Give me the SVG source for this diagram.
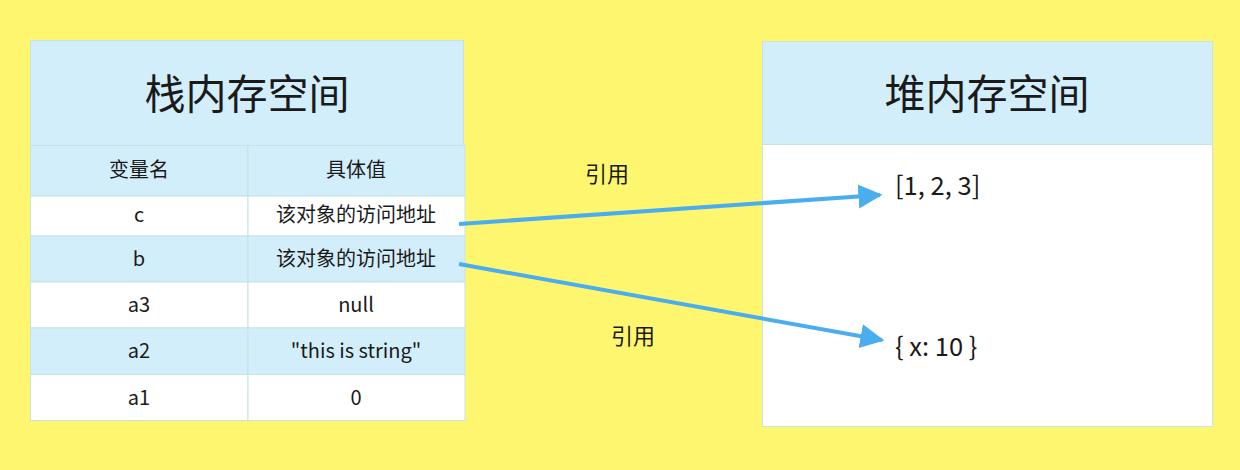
<svg xmlns="http://www.w3.org/2000/svg" width="1240" height="470" viewBox="0 0 1240 470">
<style>
text{font-family:"Noto Sans CJK SC","Noto Sans",sans-serif;fill:#1a1a1a;}
.title{font-size:41px;text-anchor:middle;}
.cell{font-size:20px;text-anchor:middle;}
.heap{font-size:25.5px;}
.lbl{font-size:22px;text-anchor:middle;}
.blue{fill:#D3EEFB;stroke:#C3E4E4;stroke-width:1;}
.white{fill:#FFFFFF;stroke:#C3E4E4;stroke-width:1;}
.arrow{stroke:#4AADF0;stroke-width:4;fill:none;}
</style>
<defs>
<marker id="ah" viewBox="0 0 10 10" refX="9" refY="5" markerWidth="6" markerHeight="8.4" markerUnits="strokeWidth" orient="auto">
<path d="M0,0 L10,5 L0,10 Z" fill="#4AADF0"/>
</marker>
</defs>
<rect x="0" y="0" width="1240" height="470" fill="#FEF66F"/>
<g id="stack">
<rect class="blue" x="30.5" y="40.5" width="433" height="105"/>
<text class="title" x="247" y="109">栈内存空间</text>
<rect class="blue" x="30.5" y="145.5" width="217.5" height="50.5"/>
<rect class="blue" x="248" y="145.5" width="217" height="50.5"/>
<text class="cell" x="139" y="177">变量名</text>
<text class="cell" x="356" y="177">具体值</text>
<rect class="white" x="30.5" y="196" width="217.5" height="40"/>
<rect class="white" x="248" y="196" width="217" height="40"/>
<text class="cell" x="139" y="222">c</text>
<text class="cell" x="356" y="222">该对象的访问地址</text>
<rect class="blue" x="30.5" y="236" width="217.5" height="46"/>
<rect class="blue" x="248" y="236" width="217" height="46"/>
<text class="cell" x="139" y="266">b</text>
<text class="cell" x="356" y="266">该对象的访问地址</text>
<rect class="white" x="30.5" y="282" width="217.5" height="46"/>
<rect class="white" x="248" y="282" width="217" height="46"/>
<text class="cell" x="139" y="312">a3</text>
<text class="cell" x="356" y="312">null</text>
<rect class="blue" x="30.5" y="328" width="217.5" height="46.5"/>
<rect class="blue" x="248" y="328" width="217" height="46.5"/>
<text class="cell" x="139" y="358">a2</text>
<text class="cell" x="356" y="358">"this is string"</text>
<rect class="white" x="30.5" y="374.5" width="217.5" height="46"/>
<rect class="white" x="248" y="374.5" width="217" height="46"/>
<text class="cell" x="139" y="405">a1</text>
<text class="cell" x="356" y="405">0</text>
</g>
<g id="heap">
<rect class="blue" x="762.5" y="41.5" width="450" height="103"/>
<text class="title" x="987" y="109">堆内存空间</text>
<rect class="white" x="762.5" y="144.5" width="450" height="282"/>
<text class="heap" x="895" y="195">[1, 2, 3]</text>
<text class="heap" x="895" y="356">{ x: 10 }</text>
</g>
<g id="connectors">
<line class="arrow" x1="459" y1="224" x2="880" y2="195" marker-end="url(#ah)"/>
<line class="arrow" x1="459" y1="264" x2="882" y2="340" marker-end="url(#ah)"/>
<text class="lbl" x="607" y="182">引用</text>
<text class="lbl" x="633" y="344">引用</text>
</g>
</svg>
